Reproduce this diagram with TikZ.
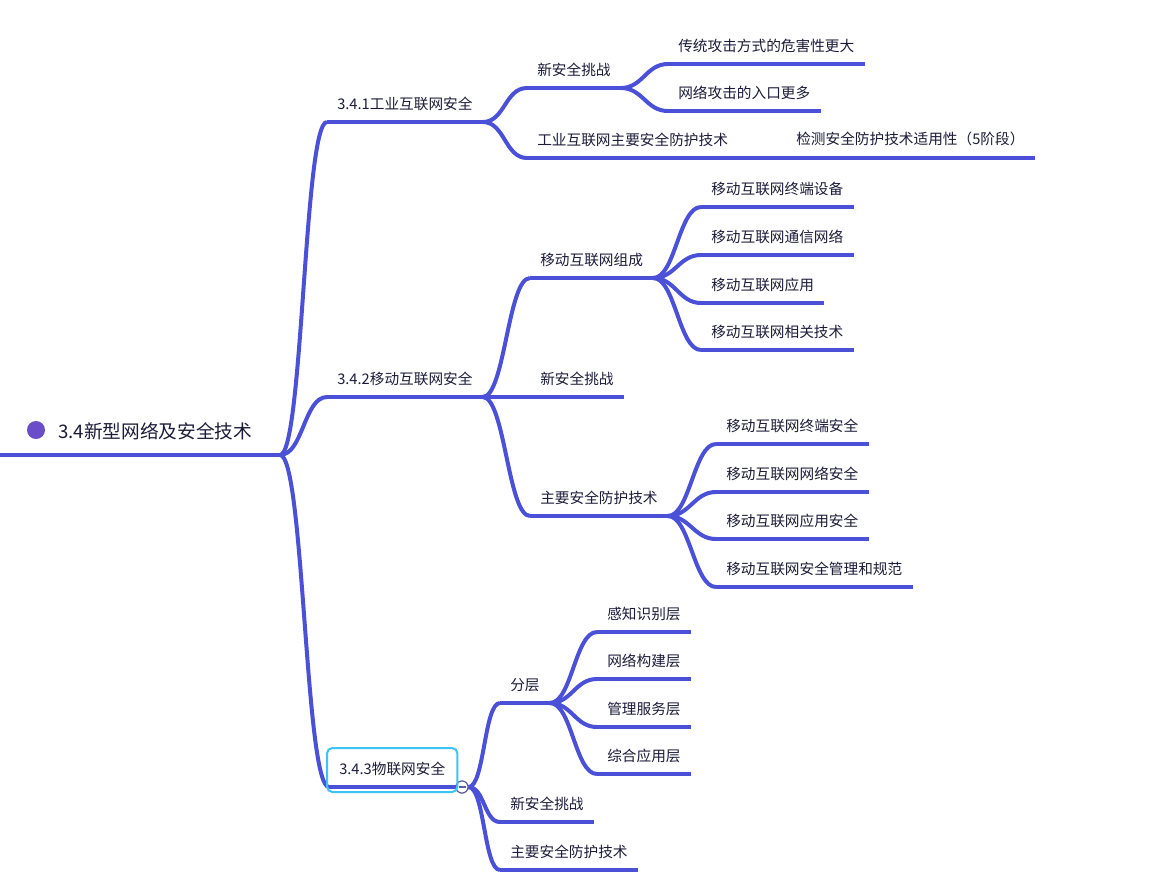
\documentclass[tikz,border=0pt]{standalone}
\usepackage{fontspec}
\setmainfont{Noto Sans CJK SC}
\usepackage{xcolor}
\usepackage{tikz}
\usetikzlibrary{calc}
\definecolor{ink}{HTML}{1C1C3A}
\definecolor{branchblue}{HTML}{4B50D9}
\definecolor{dotviolet}{HTML}{6B4CC9}
\definecolor{focuscyan}{HTML}{3CC4F7}
\definecolor{foldgray}{HTML}{5A5E9A}
\tikzset{
  topic/.style={anchor=south west,inner xsep=7.5pt,inner ysep=8.5pt,text=ink,font=\fontsize{11}{13}\selectfont},
  roottopic/.style={anchor=west,inner xsep=7.5pt,text=ink,font=\fontsize{14}{16}\selectfont},
  uline/.style={line width=3pt,color=branchblue},
  branch/.style={line width=3pt,color=branchblue,
    to path={.. controls +(#1,0) and +(-#1,0) .. (\tikztotarget)}},
  branch/.default=22,
  focusbox/.style={draw=focuscyan,line width=1.5pt,rounded corners=4pt},
  foldmark/.style={circle,minimum size=9pt,inner sep=0pt,draw=foldgray,fill=white,line width=.8pt},
}

\begin{document}
\begin{tikzpicture}[x=0.75pt,y=-0.75pt]
  \fill[white] (0,0) rectangle (1170,883);
  \useasboundingbox (0,0) rectangle (1170,883);

  % root
  \node[circle,fill=dotviolet,minimum size=13.5pt,inner sep=0pt] (dot) at (36,430) {};
  \node[roottopic] (root) at (48,431) {3.4新型网络及安全技术};
  \coordinate (rootstart) at (0,455);
  \coordinate (rootfork) at (280,455);
  \draw[uline] (rootstart) -- (rootfork);

  % first level
  \node[topic] (t1) at (327,122) {3.4.1工业互联网安全};
  \node[topic] (t2) at (327,397) {3.4.2移动互联网安全};
  \node[topic] (t3) at (329,787) {3.4.3物联网安全};

  % 3.4.1
  \node[topic] (a1) at (527,88) {新安全挑战};
  \node[topic] (a2) at (527,158) {工业互联网主要安全防护技术};
  \node[topic] (a11) at (668,64) {传统攻击方式的危害性更大};
  \node[topic] (a12) at (668,111) {网络攻击的入口更多};
  \node[topic] (a21) at (786,158) {检测安全防护技术适用性（5阶段）};

  % 3.4.2
  \node[topic] (b1) at (530,278) {移动互联网组成};
  \node[topic] (b2) at (530,397) {新安全挑战};
  \node[topic] (b3) at (530,516) {主要安全防护技术};
  \node[topic] (b11) at (701,207) {移动互联网终端设备};
  \node[topic] (b12) at (701,255) {移动互联网通信网络};
  \node[topic] (b13) at (701,303) {移动互联网应用};
  \node[topic] (b14) at (701,350) {移动互联网相关技术};
  \node[topic] (b31) at (716,444) {移动互联网终端安全};
  \node[topic] (b32) at (716,492) {移动互联网网络安全};
  \node[topic] (b33) at (716,539) {移动互联网应用安全};
  \node[topic] (b34) at (716,587) {移动互联网安全管理和规范};

  % 3.4.3
  \node[topic] (c1) at (500,703) {分层};
  \node[topic] (c2) at (500,822) {新安全挑战};
  \node[topic] (c3) at (500,870) {主要安全防护技术};
  \node[topic] (c11) at (597,632) {感知识别层};
  \node[topic] (c12) at (597,679) {网络构建层};
  \node[topic] (c13) at (597,727) {管理服务层};
  \node[topic] (c14) at (597,774) {综合应用层};

  \foreach \n in {t1,t2,t3,a1,a2,a11,a12,a21,b1,b2,b3,b11,b12,b13,b14,
                  b31,b32,b33,b34,c1,c2,c3,c11,c12,c13,c14}
    \draw[uline] (\n.south west) -- (\n.south east);

  % branches
  \draw[branch=23] (rootfork) to (t1.south west);
  \draw[branch=23] (rootfork) to (t2.south west);
  \draw[branch=24] (rootfork) to (t3.south west);
  \foreach \p/\c in {t1/a1,t1/a2,a1/a11,a1/a12,a2/a21,
                     t2/b1,t2/b2,t2/b3,b1/b11,b1/b12,b1/b13,b1/b14,
                     b3/b31,b3/b32,b3/b33,b3/b34,c1/c11,c1/c12,c1/c13,c1/c14}
    \draw[branch] (\p.south east) to (\c.south west);

  \node[foldmark] (fold) at (462,787) {};
  \foreach \c in {c1,c2,c3}
    \draw[branch=16] (fold.east) to (\c.south west);
  \draw[uline] (t3.south east) -- (fold.west);
  \node[foldmark] at (fold) {};
  \draw[foldgray,line width=.8pt] ($(fold.center)+(-3.5,0)$) -- ($(fold.center)+(3.5,0)$);

  % focus frame round 3.4.3
  \draw[focusbox] ($(t3.south west)+(-2,5)$) rectangle ($(t3.north east)+(2,-2)$);
\end{tikzpicture}
\end{document}
